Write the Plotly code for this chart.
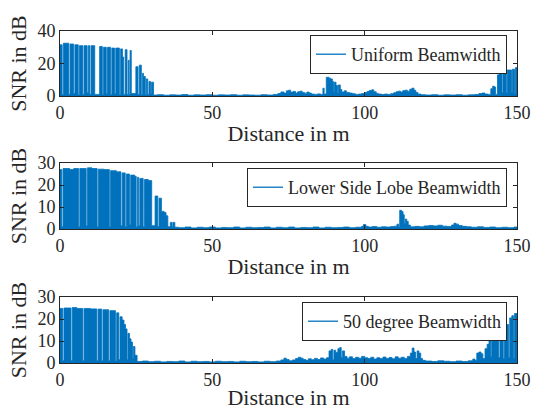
import plotly.graph_objects as go

BLUE = '#0072BD'
FONT = 'Liberation Serif'
INK = '#262626'
W, H = 534, 410

# ---------------- data (step break points: value holds until next x) ----------------
uni_x = [0, 0.7, 1.1, 2.9, 3.3, 4.5, 4.9, 6.0, 6.4, 7.5, 7.9, 8.9, 9.3, 9.8, 10.2, 11.4,
         13.0, 13.9, 14.3, 15.2, 15.6, 16.6, 17.0, 17.9, 18.3, 19.5, 19.9, 20.5, 20.9, 21.4,
         22.0, 22.4, 22.7, 23.0, 23.4, 24.9, 25.6, 26.0, 26.7, 27.1, 27.4, 28.0, 28.3, 28.8,
         29.2, 29.7, 30.0, 30.7,
         32, 34, 36, 38, 40, 42, 44, 46, 48, 50, 52, 54, 56, 58, 60, 62, 64, 66, 68, 70,
         71.5, 72.5, 73.5, 74.3, 75.0, 75.7, 76.5, 77.3, 78.0, 78.8, 79.5, 80.3, 81.0, 81.8,
         82.5, 83.5, 84.5, 85.5, 86.3, 86.7, 87.4, 88.3, 88.8, 89.4, 89.8, 90.1, 90.6, 91.1,
         91.4, 92.0, 92.5, 93.3, 94.0, 95.0, 96.0, 97.0, 98.0, 99.0, 100.0, 100.8, 101.5,
         102.3, 103.0, 103.8, 104.5, 105.5, 106.5, 107.5, 108.5, 109.5, 110.3, 111.0, 111.8,
         112.5, 113.3, 114.0, 114.8, 115.5, 116.2, 116.8, 117.5, 118.5, 120, 122, 124, 126,
         128, 130, 132, 134, 136, 137.5, 138.5, 139.5, 140.5, 141.4, 142.0, 142.6, 143.0,
         143.6, 144.1, 144.6, 145.1, 145.4, 146.0, 146.5, 146.8, 147.6, 148.2, 148.5, 149.2,
         149.5, 150]
uni_y = [31.5, 1, 32.5, 1, 32, 1.5, 31.5, 1, 31, 1, 31, 2, 31, 1, 31, 1,
         30.5, 1, 30, 1.5, 30, 1, 29.5, 1.5, 29.5, 1, 29, 24, 1, 28.5,
         1, 22, 1, 28, 1.5, 18, 1, 19, 1, 14, 12, 1, 10.5, 1,
         9, 1.5, 8.5, 0.6,
         0.8, 0.5, 0.7, 0.6, 0.9, 0.5, 0.7, 0.6, 0.8, 0.5, 0.7, 0.6, 0.8, 0.5, 0.7, 0.6, 0.5, 0.8, 0.6, 0.9,
         1.5, 2.5, 1.8, 3.2, 3.6, 2.4, 2.8, 1.8, 2.6, 3.0, 2.2, 1.6, 2.4, 1.8,
         1.2, 1.0, 1.3, 1.0, 4.8, 1.2, 11.5, 11, 10.5, 9, 3, 8.5, 6.5, 2,
         6.8, 4, 2.5, 3.2, 2.2, 1.8, 1.4, 1.0, 1.2, 1.5, 2.2, 2.8, 3.4,
         3.8, 2.6, 1.6, 1.2, 0.9, 1.2, 1.0, 1.4, 2.0, 2.6, 3.0, 2.4,
         3.3, 3.6, 3.0, 4.2, 4.8, 3.5, 2.2, 1.2, 0.8, 0.6, 0.8, 0.5, 0.7,
         0.6, 0.8, 0.5, 0.7, 0.9, 1.5, 1.8, 1.2, 1.0, 4.5, 6.0, 5.5, 1.0,
         13, 14.5, 15.5, 2, 16, 15.5, 2, 16, 16, 2, 16.5, 1.5,
         17.5, 17.5]

lsl_x = [0, 0.6, 1.0, 3.2, 4.5, 6.1, 6.5, 8.6, 9.0, 10.5, 12.2, 12.6, 14.5, 16.2, 16.6,
         18.5, 20.0, 20.4, 21.4, 21.8, 22.8, 23.2, 24.5, 25.0, 25.4, 25.8, 26.2, 27.3, 27.7,
         29.0, 30.1, 31.2, 32.1, 32.5, 33.3, 34.2, 34.8, 35.4, 36.2, 36.8, 37.1, 37.7,
         39, 41, 43, 45, 47, 49, 51, 53, 55, 57, 59, 61, 63, 65, 67, 69, 71, 73, 75, 77, 79,
         81, 83, 85, 87, 89, 91, 93, 95, 97, 99, 99.6, 100.4, 101.2, 102.5, 104, 105.5, 107,
         108.5, 109.8, 110.6, 111.2, 111.5, 112.1, 112.6, 113.0, 113.3, 113.8, 114.3, 115,
         116.5, 118, 119.5, 121, 122.5, 124, 125.5, 127, 128.5, 129.3, 130.0, 130.8, 132,
         133.5, 135, 137, 139, 141, 143, 145, 147, 149, 150]
lsl_y = [27, 1, 27.5, 27, 27.5, 1, 27.5, 1.5, 27.8, 27.5, 1, 27.2, 27, 1, 26.5,
         26, 1.5, 25.5, 1, 25, 2, 24.5, 24, 1, 23.5, 1.5, 23, 1, 22.5,
         22, 1.5, 15, 1, 14, 8, 7.5, 6, 1, 3, 1, 3, 0.8,
         0.6, 0.9, 0.5, 0.8, 0.6, 0.9, 0.5, 0.7, 0.6, 0.9, 0.5, 0.8, 0.6, 0.7, 0.9, 0.5, 0.8, 0.6, 0.9, 0.5, 0.7,
         0.6, 0.9, 0.5, 0.8, 0.6, 0.7, 0.9, 0.6, 0.8, 1.2, 2.0, 1.2, 0.9, 1.1, 0.8, 1.0, 0.9,
         1.1, 1.3, 2.2, 1.0, 8.5, 8, 6.5, 2.5, 4.5, 3.5, 1.8, 1.0,
         1.2, 1.0, 1.4, 1.6, 1.4, 1.7, 1.3, 1.1, 1.8, 2.6, 2.2, 1.6, 1.2,
         1.0, 0.8, 1.0, 0.7, 0.9, 0.6, 0.8, 0.6, 0.9, 0.9]

deg_x = [0, 0.9, 1.3, 3.6, 4.0, 5.5, 7.5, 7.9, 10, 12.1, 12.5, 13.7, 14.1, 16.0, 16.4,
         18.2, 18.6, 19.3, 19.7, 20.4, 21.0, 21.5, 22.0, 22.3, 22.8, 23.3, 23.8, 24.1, 24.6,
         25.3, 27, 29, 31, 33, 35, 37, 39, 41, 43, 45, 47, 49, 51, 53, 55, 57, 59, 61, 63,
         65, 67, 69, 71, 72.5, 73.5, 74.3, 75.2, 76.3, 77.3, 78.2, 79.0, 79.8, 80.7, 81.5,
         82.5, 83.5, 84.5, 85.5, 86.5, 87.5, 88.3, 89.0, 89.5, 89.9, 90.5, 91.2, 91.8, 92.3,
         92.7, 93.4, 94.2, 95, 96, 97, 98, 99, 100, 101, 102, 103, 104, 105, 106, 107, 108,
         109, 110, 111, 112, 113, 114, 115.0, 115.6, 116.2, 116.7, 117.2, 117.8, 118.4, 119.0,
         120, 122, 124, 126, 128, 130, 132, 134, 135.5, 136.2, 136.8, 137.5, 138.2, 138.8,
         139.5, 140.2, 140.8, 141.4, 141.7, 142.3, 142.9, 143.5, 144.0, 144.4, 145.0, 145.5,
         145.9, 146.6, 147.2, 147.6, 148.3, 148.9, 149.2, 150]
deg_y = [24.8, 1, 25, 1, 25.2, 24.8, 1, 24.8, 24.6, 1, 24.5, 1, 24.2, 1, 23.8,
         1, 22.8, 1.5, 21, 19.5, 17.5, 15.5, 1.5, 13.5, 11, 9.5, 2, 7.5, 3.5,
         0.7, 0.9, 0.6, 0.8, 0.5, 0.7, 0.6, 0.9, 0.5, 0.8, 0.6, 0.7, 0.5, 0.8, 0.6, 0.7, 0.5, 0.8, 0.6, 0.7,
         0.5, 0.8, 0.6, 0.9, 1.4, 2.2, 1.6, 1.0, 1.4, 2.0, 2.6, 2.2, 1.6, 1.2, 1.9,
         1.5, 2.1, 1.6, 2.3, 1.8, 2.4, 5.5, 6.2, 1.5, 5.8, 4.8, 6.5, 7.0, 2.5,
         5.5, 3.0, 2.2, 2.8, 2.0, 2.6, 2.2, 3.0, 2.4, 2.0, 2.6, 1.8, 2.4, 2.0, 2.7, 2.1, 2.5,
         1.9, 2.8, 2.2, 2.6, 2.0, 3.0, 4.5, 6.8, 5.0, 2.0, 5.5, 4.5, 2.0, 1.2,
         0.9, 0.7, 1.0, 0.8, 0.6, 0.9, 0.7, 1.0, 1.8, 1.2, 4.5, 5.0, 4.2, 2.0,
         6.5, 8.5, 10, 3, 10.5, 12.5, 14.8, 15, 2.5, 11, 12.5, 2,
         17, 17.5, 2.5, 20.5, 21.5, 2, 22.5, 22.5]

series_names = ['Uniform Beamwidth', 'Lower Side Lobe Beamwidth', '50 degree Beamwidth']
x_ticks = [0, 50, 100, 150]
y_ticks = [[0, 20, 40], [0, 10, 20, 30], [0, 10, 20, 30]]
y_ranges = [[0, 40], [0, 30], [0, 30]]
x_range = [0, 150]

# ---------------- layout geometry (pixels) ----------------
plot_left, plot_right = 60, 517
plot_rows = [(31, 96), (163, 229), (297, 363)]
legend_tops = [35, 168, 302]
legend_right = 507

series = [(uni_x, uni_y), (lsl_x, lsl_y), (deg_x, deg_y)]

fig = go.Figure()
layout = dict(width=W, height=H, margin=dict(l=0, r=0, t=0, b=0),
              paper_bgcolor='white', plot_bgcolor='white',
              font=dict(family=FONT, color=INK, size=18), showlegend=True)

for i, ((xs, ys), name) in enumerate(zip(series, series_names), start=1):
    sfx = '' if i == 1 else str(i)
    fig.add_trace(go.Scatter(x=xs, y=ys, mode='lines',
                             line=dict(color=BLUE, width=0.8, shape='hv'),
                             fill='tozeroy', fillcolor=BLUE, showlegend=False,
                             hoverinfo='skip', xaxis='x' + sfx, yaxis='y' + sfx))
    fig.add_trace(go.Scatter(x=[None], y=[None], mode='lines',
                             line=dict(color=BLUE, width=1.3), name=name,
                             xaxis='x' + sfx, yaxis='y' + sfx, legend='legend' + sfx))
    top, bot = plot_rows[i - 1]
    common = dict(showline=True, linecolor=INK, linewidth=1, mirror='ticks',
                  ticks='inside', ticklen=4, tickcolor=INK, showgrid=False,
                  zeroline=False, automargin=False,
                  tickfont=dict(family=FONT, size=18, color=INK))
    layout['xaxis' + sfx] = dict(common, domain=[plot_left / W, plot_right / W],
                                 range=x_range, tickvals=x_ticks, anchor='y' + sfx,
                                 title=dict(text='Distance in m', standoff=4,
                                            font=dict(family=FONT, size=22, color=INK)))
    layout['yaxis' + sfx] = dict(common, domain=[(H - bot) / H, (H - top) / H],
                                 range=y_ranges[i - 1], tickvals=y_ticks[i - 1],
                                 anchor='x' + sfx,
                                 title=dict(text='SNR in dB', standoff=4,
                                            font=dict(family=FONT, size=22, color=INK)))
    layout['legend' + sfx] = dict(x=legend_right / W, xanchor='right',
                                  y=(H - legend_tops[i - 1]) / H, yanchor='top',
                                  bordercolor=INK, borderwidth=1, bgcolor='white',
                                  font=dict(family=FONT, size=18, color=INK),
                                  itemwidth=30, tracegroupgap=0)

fig.update_layout(**layout)
fig.write_html('out.html')
